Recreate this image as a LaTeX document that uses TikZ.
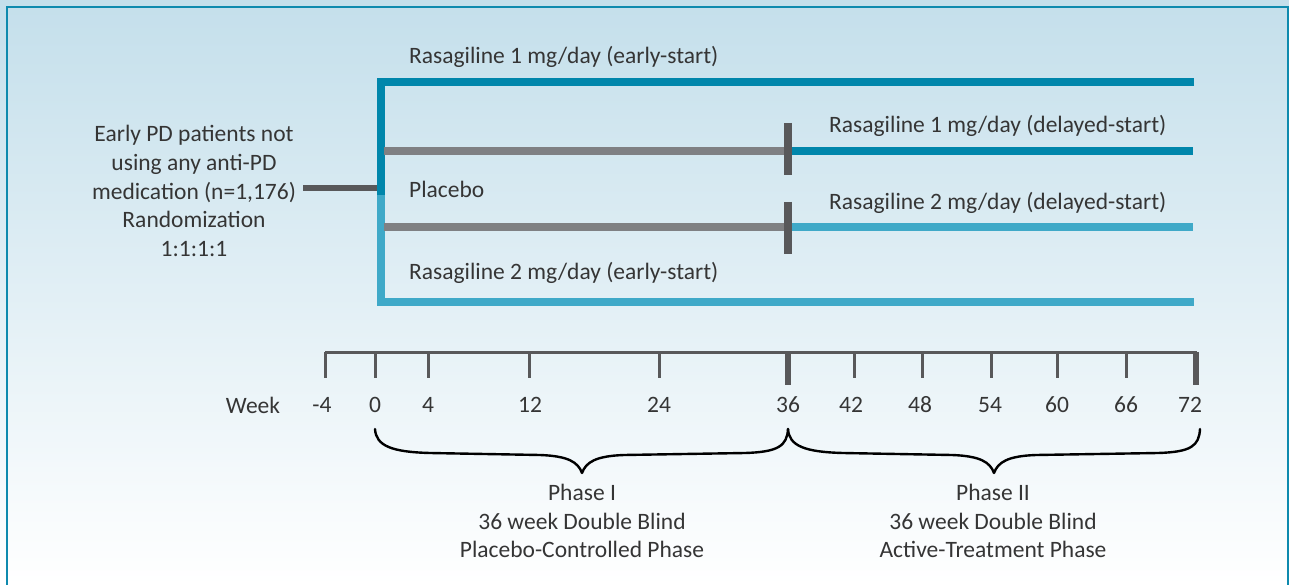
\documentclass[tikz,border=0pt]{standalone}
\usepackage{fontspec}
\setmainfont{Carlito}
\definecolor{tealdark}{HTML}{0086AB}
\definecolor{teallight}{HTML}{3FA9C8}
\definecolor{greyline}{HTML}{7F8083}
\definecolor{darkgrey}{HTML}{58585A}
\definecolor{txt}{HTML}{353535}
\definecolor{bgtop}{HTML}{C4DFEB}
\definecolor{bgmid}{HTML}{E8F3F8}
\definecolor{framecol}{HTML}{0E8AAE}
\begin{document}
\begin{tikzpicture}[x=1pt,y=-1pt,
  lbl/.style={text=txt,font=\fontsize{23.5}{28.7}\selectfont,inner sep=0pt},
  arm/.style={line width=8pt,line join=miter},
  bar/.style={line width=8pt,greyline},
  vtick/.style={line width=8pt,darkgrey},
  axisln/.style={line width=3pt,darkgrey},
  thintick/.style={line width=3pt,darkgrey},
  thicktick/.style={line width=6pt,darkgrey},
  bracestyle/.style={line width=2.4pt,black,line cap=round,line join=round}]
\useasboundingbox (0,0) rectangle (1289,585);
\shade[top color=bgtop,middle color=bgmid,bottom color=white] (0,0) rectangle (1289,585);
\draw[framecol,line width=2.5pt] (7,7) rectangle (1288,640);

% coordinates of arms
\coordinate (tl) at (381,82);
\coordinate (tr) at (1194,82);
\coordinate (mid) at (381,195);
\coordinate (bl) at (381,302);
\coordinate (br) at (1194,302);
\coordinate (g1s) at (384,151.5);
\coordinate (g1e) at (788,151.5);
\coordinate (d1e) at (1193,151.5);
\coordinate (g2s) at (384,227.5);
\coordinate (g2e) at (788,227.5);
\coordinate (d2e) at (1193,227.5);
\coordinate (v1t) at (788,123);
\coordinate (v1b) at (788,175);
\coordinate (v2t) at (788,202);
\coordinate (v2b) at (788,254);
\coordinate (join) at (381,188);

% left text
\node[lbl,align=center] (pat) at (194,191) {Early PD patients not\\using any anti-PD\\medication (n=1,176)\\Randomization\\1:1:1:1};
\coordinate (patend) at (303,188);
\draw[darkgrey,line width=6pt] (patend) -- (join);

% arms
\draw[arm,tealdark] (tr) -- (tl) -- (mid);
\draw[arm,teallight] (mid) -- (bl) -- (br);
\draw[bar] (g1s) -- (g1e);
\draw[bar] (g2s) -- (g2e);
\draw[arm,tealdark] (g1e) -- (d1e);
\draw[arm,teallight] (g2e) -- (d2e);
\draw[vtick] (v1t) -- (v1b);
\draw[vtick] (v2t) -- (v2b);

% arm labels
\node[lbl,anchor=west] (a1) at (409,57) {Rasagiline 1 mg/day (early-start)};
\node[lbl,anchor=west] (a2) at (829,126) {Rasagiline 1 mg/day (delayed-start)};
\node[lbl,anchor=west] (a3) at (409,189) {Placebo};
\node[lbl,anchor=west] (a4) at (829,203) {Rasagiline 2 mg/day (delayed-start)};
\node[lbl,anchor=west] (a5) at (409,273) {Rasagiline 2 mg/day (early-start)};

% axis
\coordinate (ax0) at (325,352);
\coordinate (ax1) at (1197,352);
\draw[axisln] (ax0) -- (ax1);
\foreach \x in {325,375,428,529,659,854,922,991,1057,1126}
  \draw[thintick] (\x,352) -- (\x,378);
\draw[thicktick] (788,352) -- (788,385);
\draw[thicktick] (1196,352) -- (1196,385);
\node[lbl] (wk) at (253,405) {Week};
\foreach \x/\t in {322/-4,375/0,428/4,530/12,659/24,788/36,851/42,920/48,990/54,1057/60,1126/66,1190/72}
  \node[lbl] (w\t) at (\x,405) {\t};

% braces
\draw[bracestyle] (375,429) .. controls (376,446) and (392,452) .. (430,453)
  -- (540,455) .. controls (568,456) and (578,462) .. (582,473)
  .. controls (586,462) and (596,456) .. (624,455)
  -- (745,453) .. controls (778,452) and (787,446) .. (788,429);
\draw[bracestyle] (788,429) .. controls (789,446) and (805,452) .. (843,453)
  -- (952,455) .. controls (980,456) and (990,462) .. (994,473)
  .. controls (998,462) and (1008,456) .. (1036,455)
  -- (1158,453) .. controls (1191,452) and (1199,446) .. (1200,429);

\node[lbl,align=center] (ph1) at (582,521) {Phase I\\36 week Double Blind\\Placebo-Controlled Phase};
\node[lbl,align=center] (ph2) at (993,521) {Phase II\\36 week Double Blind\\Active-Treatment Phase};
\end{tikzpicture}
\end{document}
